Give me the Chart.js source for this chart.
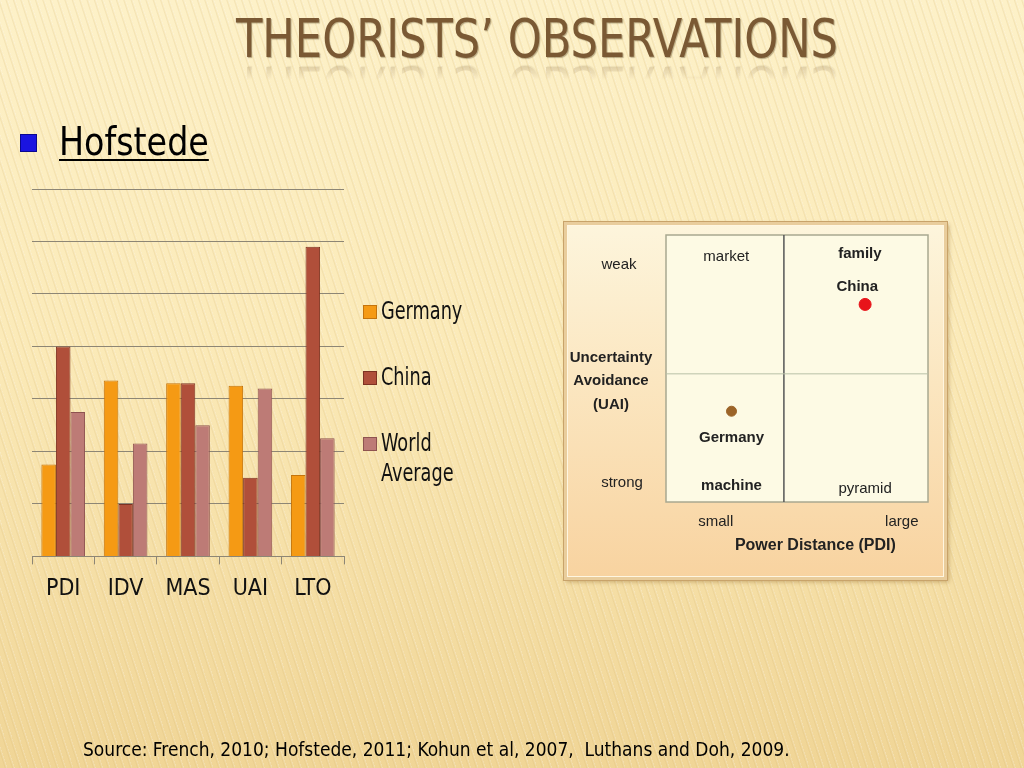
<!DOCTYPE html>
<html>
<head>
<meta charset="utf-8">
<script src="https://cdn.jsdelivr.net/npm/chart.js@4.4.1/dist/chart.umd.min.js"></script>
<style>
    html, body { margin: 0; padding: 0; }
    body {
        width: 1024px; height: 768px; position: relative; overflow: hidden;
        font-family: "DejaVu Sans Condensed", "Liberation Sans Narrow", sans-serif;
        background:
            repeating-linear-gradient(72deg, rgba(255,255,255,0.0) 0px, rgba(255,255,255,0.0) 4px, rgba(215,180,105,0.22) 5px, rgba(255,255,255,0.25) 7px),
            linear-gradient(180deg, #fdf1c8 0%, #fbeab8 45%, #f0d596 100%);
    }
    .titulo {
        position: absolute; left: 25px; width: 1024px; top: 8px; text-align: center;
        font-size: 54px; color: #7a5934; line-height: 62px;
        transform: scaleX(0.89); transform-origin: 512px 0;
        text-shadow: 1px 1px 1px rgba(60,40,10,0.35);
        -webkit-box-reflect: below -16px linear-gradient(transparent 58%, rgba(255,255,255,0.4));
    }
    .bullet {
        position: absolute; left: 20px; top: 134px; width: 17px; height: 18px;
        background: #1a14e0; box-shadow: inset 0 0 0 1px #0a0890;
    }
    .hofstede {
        position: absolute; left: 59px; top: 119px; font-size: 39px; color: #000;
        transform: scaleX(0.95); transform-origin: 0 0;
        text-decoration: underline; text-decoration-thickness: 2px; text-underline-offset: 4px;
    }
    #barras { position: absolute; left: 20px; top: 180px; }
    .leyenda { position: absolute; left: 363px; top: 296px; font-size: 24px; color: #111; }
    .ley-item { position: absolute; left: 0; white-space: nowrap; line-height: 30px; }
    .ley-dot { position: absolute; left: 0; top: 9px; width: 12px; height: 12px; }
    .ley-txt { position: absolute; left: 18px; top: 0; transform: scaleX(0.82); transform-origin: 0 0; }
    .panel {
        position: absolute; left: 564px; top: 222px; width: 377px; height: 352px;
        border: 3px solid #e9cd9c;
        box-shadow: 0 0 0 1px #c8a36a, inset 0 0 0 1px #fff6e0, 2px 2px 4px rgba(120,80,20,0.35);
        background: linear-gradient(180deg, #fdf5dc 0%, #fbe6c0 45%, #f8d3a0 100%);
    }
    #cuadrante { position: absolute; left: 0; top: 0; }
    .fuente {
        position: absolute; left: 83px; top: 737px; font-size: 20px; color: #000; white-space: nowrap;
        transform: scaleX(0.95); transform-origin: 0 0;
    }
</style>
</head>
<body>
<div class="titulo">THEORISTS’ OBSERVATIONS</div>
<div class="bullet"></div>
<div class="hofstede">Hofstede</div>

<canvas id="barras" width="326" height="436"></canvas>
<div class="leyenda" id="leyenda"></div>

<div class="panel"><canvas id="cuadrante" width="377" height="352"></canvas></div>

<div class="fuente">Source: French, 2010; Hofstede, 2011; Kohun et al, 2007,&nbsp; Luthans and Doh, 2009.</div>

<script>
// ===== DATOS =====
const dimensiones = ["PDI", "IDV", "MAS", "UAI", "LTO"]
const germany = [35, 67, 66, 65, 31]
const china = [80, 20, 66, 30, 118]
const worldAverage = [55, 43, 50, 64, 45]
const series = ["Germany", "China", "World Average"]
const coloresSeries = ["#f59a14", "#b04f3a", "#bd7b76"]
const bordesSeries = ["#c4740c", "#7d3222", "#8e5350"]

// cuadrante: posición relativa (0-100) en PDI / UAI
const paises = ["China", "Germany"]
const pdiPos = [76, 25]
const uaiPos = [26, 66]
const coloresPaises = ["#e8141a", "#9c6428"]

// ===== GRÁFICO DE BARRAS =====
const datos = [germany, china, worldAverage]

new Chart(document.getElementById("barras"), {
    type: "bar",
    data: {
        labels: dimensiones,
        datasets: series.map((s, i) => ({
            label: s,
            data: datos[i],
            backgroundColor: coloresSeries[i],
            borderColor: bordesSeries[i],
            borderWidth: 1,
            barPercentage: 1,
            categoryPercentage: 0.7
        }))
    },
    options: {
        responsive: false,
        animation: false,
        layout: { padding: { left: 12, right: 2, top: 9, bottom: 2 } },
        plugins: { legend: { display: false }, tooltip: { enabled: false } },
        scales: {
            y: {
                min: 0, max: 140,
                ticks: { display: false, stepSize: 20 },
                grid: { color: "#8d8675", lineWidth: 1, drawTicks: false },
                border: { display: false }
            },
            x: {
                grid: { drawOnChartArea: false, drawTicks: true, tickLength: 8, color: "#8d8675" },
                border: { color: "#8d8675" },
                ticks: {
                    color: "#111", padding: 11,
                    font: { family: "'DejaVu Sans Condensed', 'Liberation Sans Narrow', sans-serif", size: 23 }
                }
            }
        }
    }
})

// leyenda
const leyenda = document.getElementById("leyenda")
const posLeyenda = [0, 66, 132]
leyenda.innerHTML = series.map((s, i) => `
    <div class="ley-item" style="top:${posLeyenda[i]}px">
        <div class="ley-dot" style="background:${coloresSeries[i]};border:1px solid ${bordesSeries[i]}"></div>
        <div class="ley-txt">${s === "World Average" ? "World<br>Average" : s}</div>
    </div>
`).join("")

// ===== CUADRANTE =====
const textosCuadrante = {
    id: "textosCuadrante",
    afterDraw(chart) {
        const ctx = chart.ctx
        const a = chart.chartArea
        const sx = chart.scales.x
        const sy = chart.scales.y
        ctx.save()
        // marco y líneas medias
        ctx.strokeStyle = "#a8a890"
        ctx.lineWidth = 1.5
        ctx.strokeRect(a.left, a.top, a.right - a.left, a.bottom - a.top)
        ctx.strokeStyle = "#555"
        ctx.lineWidth = 1.5
        ctx.beginPath()
        ctx.moveTo(sx.getPixelForValue(45), a.top)
        ctx.lineTo(sx.getPixelForValue(45), a.bottom)
        ctx.stroke()
        ctx.strokeStyle = "#b8c0a8"
        ctx.lineWidth = 1
        ctx.beginPath()
        ctx.moveTo(a.left, sy.getPixelForValue(52))
        ctx.lineTo(a.right, sy.getPixelForValue(52))
        ctx.stroke()

        ctx.fillStyle = "#222"
        ctx.textAlign = "center"
        ctx.textBaseline = "middle"
        const fNormal = "15px 'Liberation Sans', Arial, sans-serif"
        const fBold = "bold 15px 'Liberation Sans', Arial, sans-serif"
        function txt(t, x, y, f) { ctx.font = f; ctx.fillText(t, x, y) }

        // dentro del cuadrante (coordenadas de datos)
        txt("market", sx.getPixelForValue(23), sy.getPixelForValue(8), fNormal)
        txt("family", sx.getPixelForValue(74), sy.getPixelForValue(7), fBold)
        txt("China", sx.getPixelForValue(73), sy.getPixelForValue(19.5), fBold)
        txt("Germany", sx.getPixelForValue(25), sy.getPixelForValue(76), fBold)
        txt("machine", sx.getPixelForValue(25), sy.getPixelForValue(94), fBold)
        txt("pyramid", sx.getPixelForValue(76), sy.getPixelForValue(95), fNormal)

        // ejes exteriores
        const cx = a.left - 49
        txt("weak", cx + 2, sy.getPixelForValue(11), fNormal)
        txt("Uncertainty", cx - 6, sy.getPixelForValue(46), fBold)
        txt("Avoidance", cx - 6, sy.getPixelForValue(54.5), fBold)
        txt("(UAI)", cx - 6, sy.getPixelForValue(63.5), fBold)
        txt("strong", cx + 5, sy.getPixelForValue(93), fNormal)
        txt("small", sx.getPixelForValue(19), a.bottom + 20, fNormal)
        txt("large", sx.getPixelForValue(90), a.bottom + 20, fNormal)
        ctx.font = "bold 16px 'Liberation Sans', Arial, sans-serif"
        ctx.fillText("Power Distance (PDI)", sx.getPixelForValue(57), a.bottom + 44)
        ctx.restore()
    }
}

const fondoCuadrante = {
    id: "fondoCuadrante",
    beforeDatasetsDraw(chart) {
        const a = chart.chartArea
        chart.ctx.save()
        chart.ctx.fillStyle = "#fdfae4"
        chart.ctx.fillRect(a.left, a.top, a.right - a.left, a.bottom - a.top)
        chart.ctx.restore()
    }
}

new Chart(document.getElementById("cuadrante"), {
    type: "scatter",
    data: {
        datasets: paises.map((p, i) => ({
            label: p,
            data: [{ x: pdiPos[i], y: uaiPos[i] }],
            backgroundColor: coloresPaises[i],
            borderColor: coloresPaises[i],
            pointRadius: i === 0 ? 6 : 5
        }))
    },
    options: {
        responsive: false,
        animation: false,
        layout: { padding: { left: 99, right: 16, top: 10, bottom: 75 } },
        plugins: { legend: { display: false }, tooltip: { enabled: false } },
        scales: {
            x: { display: false, min: 0, max: 100 },
            y: { display: false, min: 0, max: 100, reverse: true }
        }
    },
    plugins: [fondoCuadrante, textosCuadrante]
})
</script>
</body>
</html>
